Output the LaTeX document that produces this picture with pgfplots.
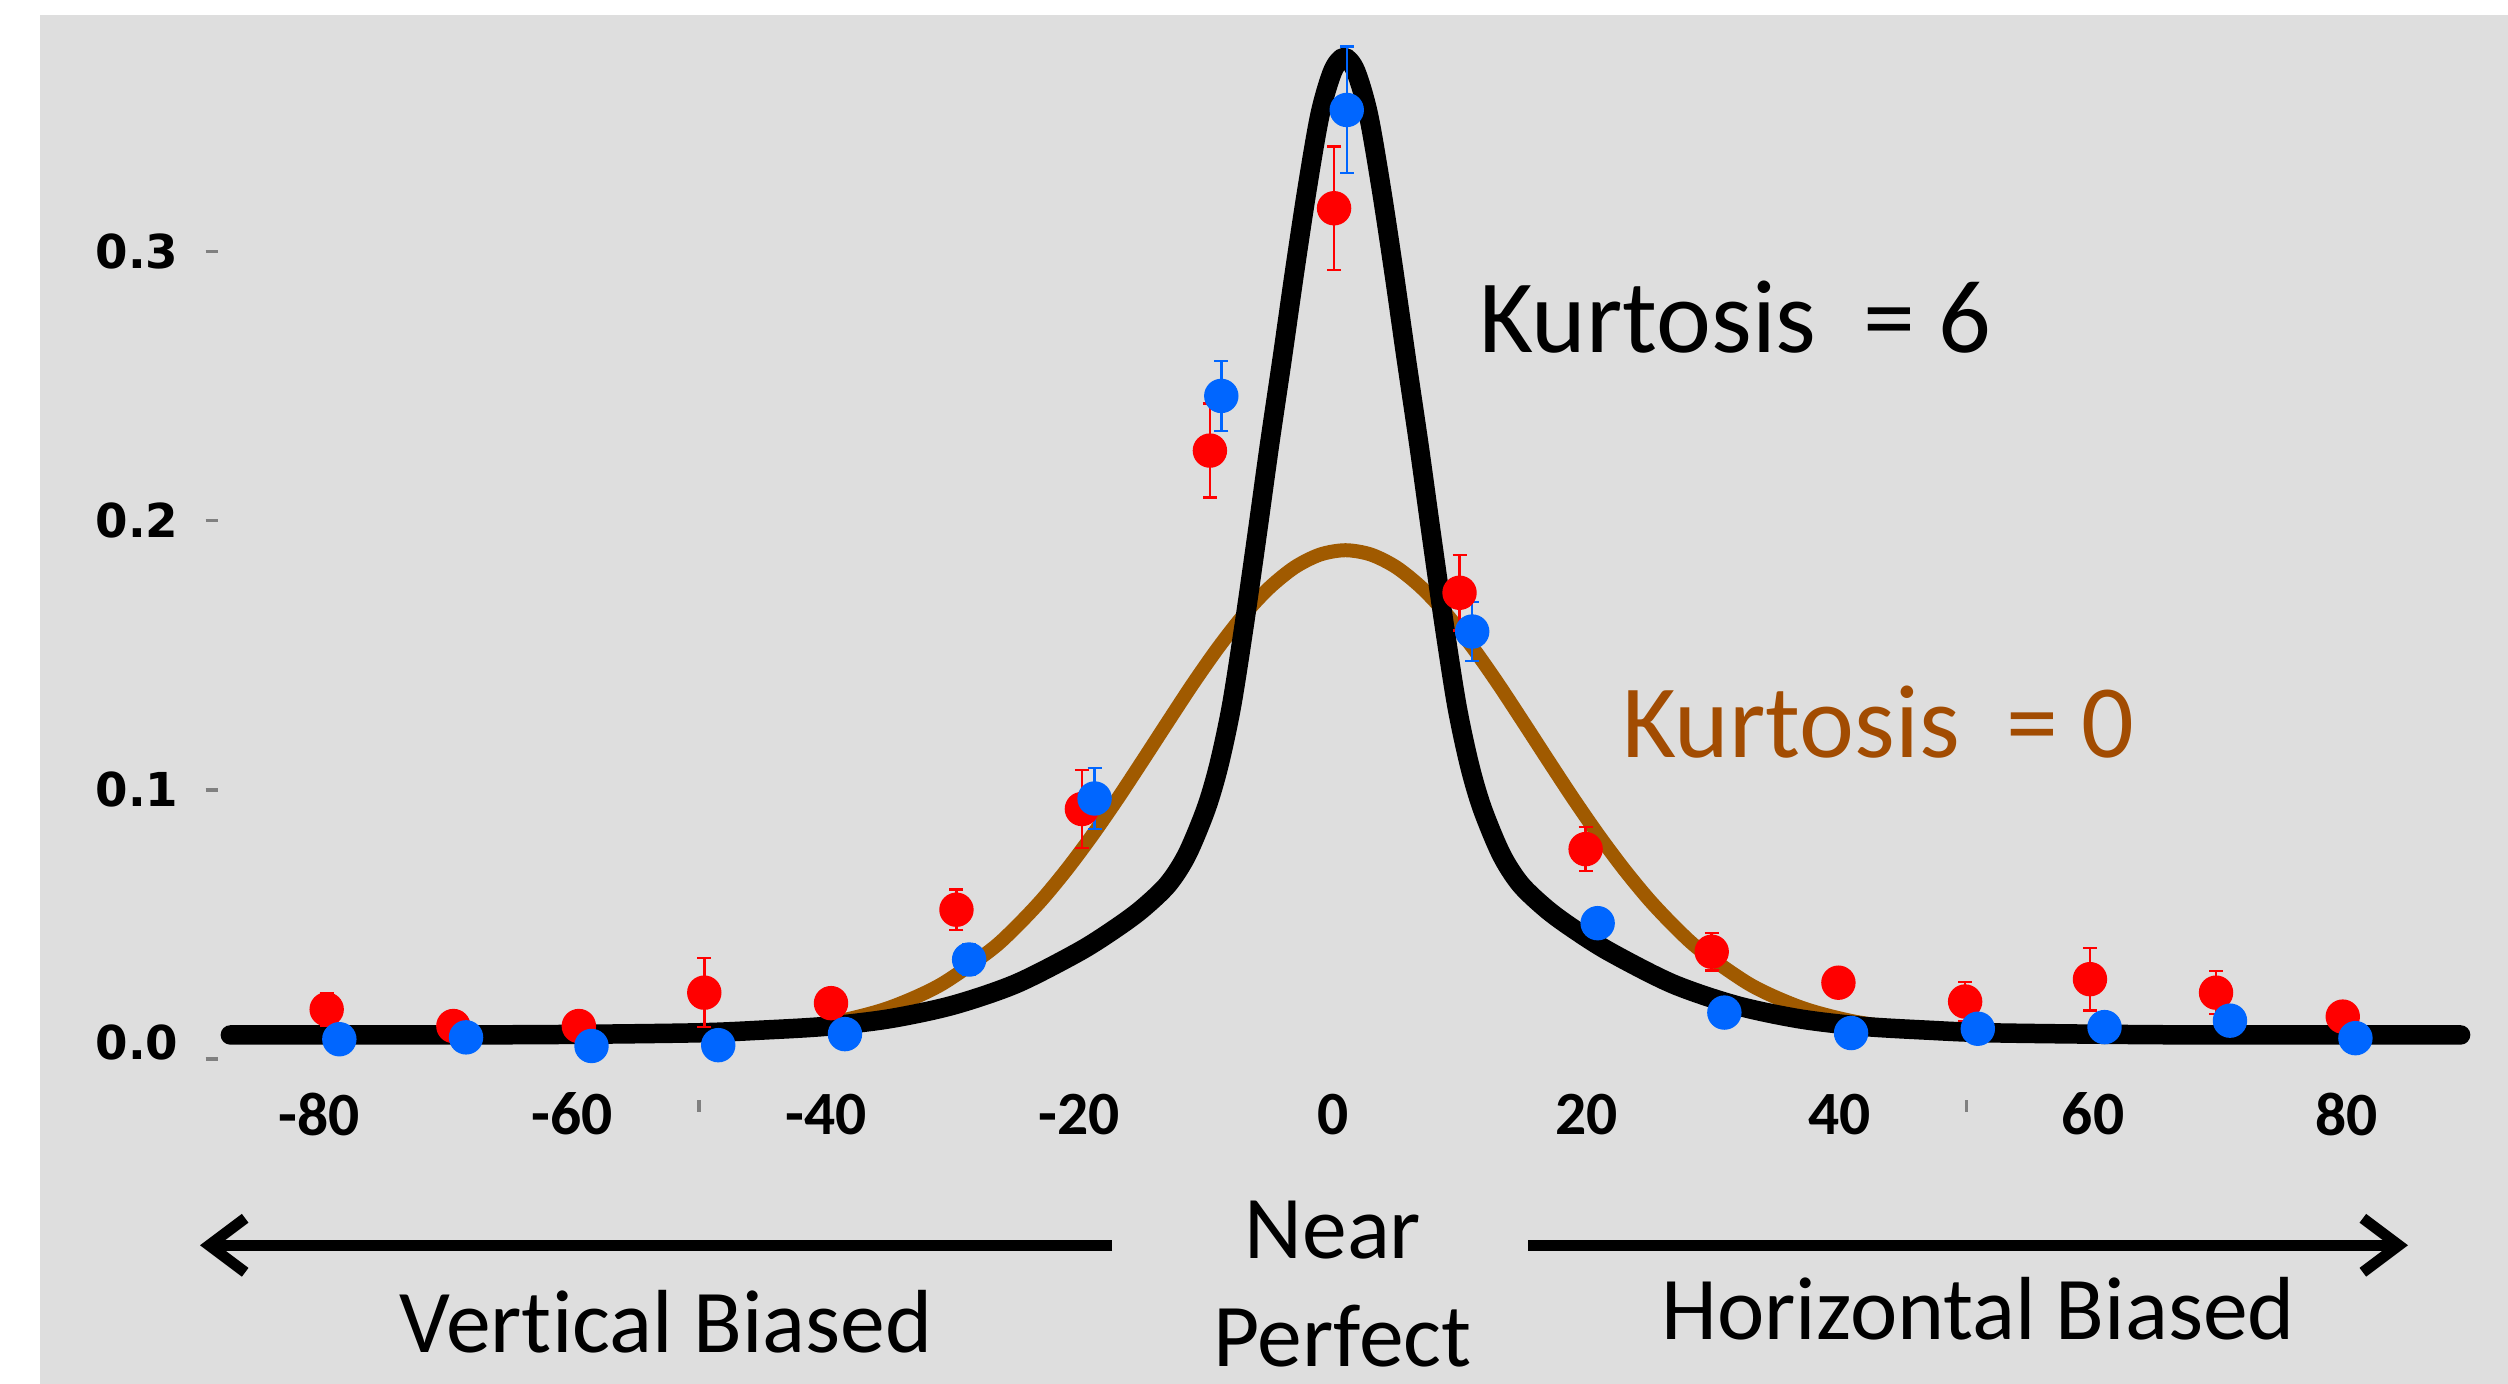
\documentclass[border=0pt]{standalone}
\usepackage{fontspec}
\setmainfont{Carlito}[Ligatures=NoCommon]
\newfontfamily\dejavu{DejaVu Sans}
\usepackage{pgfplots}
\pgfplotsset{compat=1.18}
\usetikzlibrary{arrows.meta}
\definecolor{bg}{RGB}{222,222,222}
\definecolor{kbrown}{RGB}{160,90,0}
\definecolor{ktext}{RGB}{162,76,2}
\definecolor{pblue}{RGB}{0,102,255}
\definecolor{pred}{RGB}{255,0,0}

\pgfplotstableread{
x y e
-79.4 0.0185 0.006
-69.4 0.0123 0.003
-59.5 0.0123 0.003
-49.6 0.0247 0.0128
-39.6 0.0208 0.004
-29.7 0.0555 0.0075
-19.8 0.0929 0.0145
-9.7 0.2260 0.0175
0.1 0.3160 0.0230
10.0 0.1732 0.0140
19.95 0.0780 0.0082
29.9 0.0399 0.0070
39.9 0.0284 0.004
49.9 0.0214 0.0072
59.75 0.0297 0.0116
69.7 0.0247 0.0080
79.7 0.0158 0.004
}\redtab

\pgfplotstableread{
x y e
-78.4 0.0074 0.003
-68.4 0.0081 0.003
-58.5 0.0049 0.003
-48.5 0.0052 0.003
-38.5 0.0093 0.003
-28.7 0.0370 0.0058
-18.8 0.0968 0.0113
-8.8 0.2463 0.0130
1.1 0.3525 0.0235
11.0 0.1588 0.0110
20.9 0.0505 0.004
30.9 0.0173 0.003
40.9 0.0097 0.003
50.9 0.0113 0.003
60.9 0.0119 0.003
70.8 0.0143 0.004
80.7 0.0078 0.003
}\bluetab

\begin{document}
\begin{tikzpicture}
\begin{scope}[x=0.1mm,y=0.1mm]
\fill[white] (0,0) rectangle (2508,1384);
\fill[bg] (40,0) rectangle (2508,1369);
\useasboundingbox (0,0) rectangle (2508,1384);
\end{scope}
\begin{axis}[
  at={(21.77mm,28.39mm)}, anchor=south west,
  scale only axis, width=228.09mm, height=106.42mm,
  xmin=-88, xmax=92, ymin=-0.0152, ymax=0.38,
  axis x line=bottom, axis y line=left,
  axis line style={draw=none},
  tick align=outside,
  xtick={-80,-60,...,80},
  xticklabels={-80,-60,-40,-20,0,20,40,60,80},
  x tick style={draw=none},
  ytick={0.1,0.2,0.3}, yticklabels={0.1,0.2,0.3},
  extra y ticks={0}, extra y tick labels={0.0},
  extra y tick style={yticklabel style={yshift=1.7mm}},
  y tick style={draw=gray, line width=0.35mm},
  major tick length=1.2mm,
  yticklabel style={font=\dejavu\bfseries\fontsize{13.3}{13}\selectfont, anchor=east, inner sep=0pt, xshift=-2.67mm},
  xticklabel style={font=\bfseries\fontsize{17.5}{17}\selectfont, anchor=center, inner sep=0pt, yshift=-0.2mm},
  clip=false,
]
\addplot[kbrown, line width=1.4mm, smooth] table {
-51 0.0094
-47 0.0101
-43 0.0114
-39 0.0141
-35 0.0191
-31 0.0275
-27 0.0405
-25 0.0491
-23 0.0590
-21 0.0704
-19 0.0830
-17 0.0966
-15 0.1109
-13 0.1254
-11 0.1397
-9 0.1531
-7 0.1651
-5 0.1751
-3 0.1827
-1 0.1874
1 0.1890
3 0.1874
5 0.1827
7 0.1751
9 0.1651
11 0.1531
13 0.1397
15 0.1254
17 0.1109
19 0.0966
21 0.0830
23 0.0704
25 0.0590
27 0.0491
29 0.0405
33 0.0275
37 0.0191
41 0.0141
45 0.0114
49 0.0101
55 0.0093
};
\addplot[black, line width=1.95mm, smooth, line cap=round] table {
-87 0.009
-70 0.009
-60 0.0092
-50 0.0098
-45 0.0108
-40 0.0122
-35 0.015
-30 0.020
-25 0.028
-20 0.040
-17 0.049
-15 0.056
-13 0.065
-11.5 0.076
-10 0.093
-9 0.109
-8 0.131
-7 0.161
-6 0.194
-5 0.228
-4 0.260
-3 0.293
-2 0.324
-1 0.351
0 0.367
0.9 0.372
1.8 0.367
2.8 0.351
3.8 0.324
4.8 0.293
5.8 0.260
6.8 0.228
7.8 0.194
8.8 0.161
9.8 0.131
10.8 0.109
11.8 0.093
13.3 0.076
14.8 0.065
16.8 0.056
18.8 0.049
21.8 0.040
26.8 0.028
31.8 0.020
36.8 0.015
41.8 0.0122
46.8 0.0108
51.8 0.0098
61.8 0.0092
70 0.009
89 0.009
};
\addplot[pred, only marks, mark=*, mark size=1.65mm, mark options={draw=none, fill=pred},
  error bars/.cd, y dir=both, y explicit,
  error bar style={line width=0.25mm, pred},
  error mark options={rotate=90, line width=0.25mm, mark size=0.7mm, pred}]
  table[x=x, y=y, y error=e] {\redtab};
\addplot[pblue, only marks, mark=*, mark size=1.65mm, mark options={draw=none, fill=pblue},
  error bars/.cd, y dir=both, y explicit,
  error bar style={line width=0.25mm, pblue},
  error mark options={rotate=90, line width=0.25mm, mark size=0.7mm, pblue}]
  table[x=x, y=y, y error=e] {\bluetab};
\draw[gray, line width=0.35mm] (axis cs:-50,-0.0152) -- (axis cs:-50,-0.0197);
\draw[gray, line width=0.35mm] (axis cs:50,-0.0152) -- (axis cs:50,-0.0197);
\node[anchor=base west, inner sep=0pt, font=\fontsize{29.6}{30}\selectfont] at (axis cs:11.5,0.2623) {Kurtosis~~= 6};
\node[anchor=base west, inner sep=0pt, text=ktext, font=\fontsize{29.6}{30}\selectfont] at (axis cs:22.8,0.1122) {Kurtosis~~= 0};
\end{axis}
\begin{scope}[x=0.1mm,y=0.1mm]
\node[anchor=base, inner sep=0pt, font=\fontsize{25.5}{26}\selectfont] at (666,31.3) {Vertical Biased};
\node[anchor=base, inner sep=0pt, font=\fontsize{25.5}{26}\selectfont] at (1332.8,125.7) {Near};
\node[anchor=base, inner sep=0pt, font=\fontsize{25.5}{26}\selectfont] at (1342.4,17.3) {Perfect};
\node[anchor=base, inner sep=0pt, font=\fontsize{25.5}{26}\selectfont] at (1978.4,44) {Horizontal Biased};
\draw[line width=1.1mm, -{Straight Barb[length=3.6mm,width=5.4mm]}] (1112,138.7) -- (200,138.7);
\draw[line width=1.1mm, -{Straight Barb[length=3.6mm,width=5.4mm]}] (1528,138.7) -- (2408,138.7);
\end{scope}
\end{tikzpicture}
\end{document}
